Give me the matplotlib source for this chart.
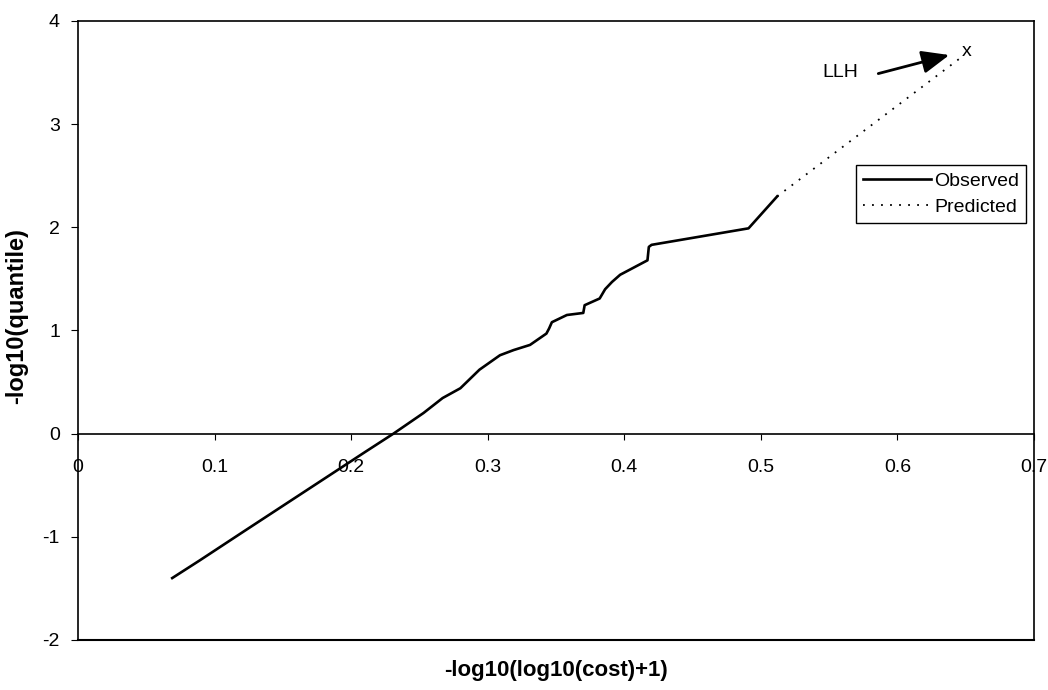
import numpy as np
import matplotlib
matplotlib.use('Agg')
import matplotlib.pyplot as plt

matplotlib.rcParams.update({'font.family': ['Liberation Sans', 'DejaVu Sans'],
                            'font.size': 14})

# observed quantiles
obs_x = [0.069, 0.089, 0.12, 0.15, 0.18, 0.21, 0.231, 0.253, 0.267, 0.280,
         0.294, 0.309, 0.319, 0.331, 0.343, 0.345, 0.347, 0.358, 0.370, 0.371,
         0.382, 0.386, 0.391, 0.397, 0.417, 0.418, 0.420, 0.491, 0.512]
obs_y = [-1.40, -1.23, -0.96, -0.70, -0.44, -0.18, 0.0, 0.20, 0.345, 0.44,
         0.62, 0.76, 0.81, 0.86, 0.97, 1.02, 1.08, 1.15, 1.17, 1.245,
         1.31, 1.40, 1.47, 1.54, 1.68, 1.81, 1.83, 1.99, 2.30]

# predicted extension
pred_x = [0.512, 0.648]
pred_y = [2.30, 3.66]

llh_x, llh_y = 0.651, 3.70

xticks = [0, 0.1, 0.2, 0.3, 0.4, 0.5, 0.6, 0.7]
yticks = [-2, -1, 0, 1, 2, 3, 4]

fig = plt.figure(figsize=(10.48, 6.9), dpi=100)
ax = fig.add_axes([0.0744, 0.0725, 0.9122, 0.8971])

ax.plot(obs_x, obs_y, color='black', lw=1.9, label='Observed')
ax.plot(pred_x, pred_y, color='black', lw=1.3, linestyle=(0, (1, 4)), label='Predicted')

ax.text(llh_x, llh_y, 'x', ha='center', va='center', fontsize=14)
ax.text(0.558, 3.50, 'LLH', ha='center', va='center', fontsize=14)
ax.annotate('', xy=(0.638, 3.67), xytext=(0.586, 3.49),
            arrowprops=dict(arrowstyle='-|>,head_length=1.2,head_width=0.5',
                            color='black', lw=2, shrinkA=0, shrinkB=0))

ax.set_xlim(0, 0.7)
ax.set_ylim(-2, 4)
ax.set_xticks(xticks)
ax.set_yticks(yticks)
ax.set_xticklabels(['0', '0.1', '0.2', '0.3', '0.4', '0.5', '0.6', '0.7'])
ax.set_yticklabels(['-2', '-1', '0', '1', '2', '3', '4'])

# x axis sits at y = 0, frame still closed at the bottom
ax.spines['bottom'].set_position(('data', 0))
ax.spines['bottom'].set_linewidth(1.2)
ax.plot([0, 1], [0, 0], transform=ax.transAxes, color='black', lw=1.5, clip_on=False)
for s in ['left', 'right', 'top']:
    ax.spines[s].set_linewidth(1.2)

ax.tick_params(axis='x', direction='out', length=4, pad=14, labelsize=14)
ax.tick_params(axis='y', direction='out', length=5, pad=8, labelsize=14)

ax.set_xlabel('-log10(log10(cost)+1)', fontweight='bold', fontsize=16)
ax.xaxis.set_label_coords(0.5, -0.033)
ax.set_ylabel('-log10(quantile)', fontweight='bold', fontsize=17)
ax.yaxis.set_label_coords(-0.052, 0.523)

leg = ax.legend(loc='upper right', bbox_to_anchor=(0.992, 0.767), fancybox=False,
                edgecolor='black', framealpha=1, borderaxespad=0, fontsize=14,
                handlelength=3.5, handletextpad=0.2, borderpad=0.35, labelspacing=0.45)
leg.get_frame().set_linewidth(1.0)

plt.savefig('out.png', dpi=100)
